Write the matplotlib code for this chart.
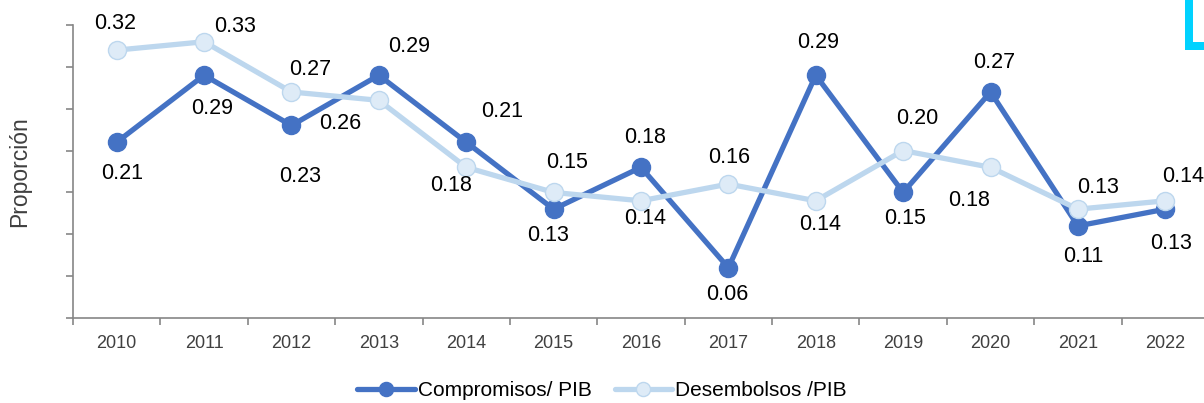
import matplotlib.pyplot as plt
from matplotlib.patches import Rectangle

plt.rcParams['font.family'] = ['Liberation Sans', 'DejaVu Sans']

# Data
years = ['2010', '2011', '2012', '2013', '2014', '2015', '2016',
         '2017', '2018', '2019', '2020', '2021', '2022']
compromisos = [0.21, 0.29, 0.23, 0.29, 0.21, 0.13, 0.18, 0.06, 0.29, 0.15, 0.27, 0.11, 0.13]
desembolsos = [0.32, 0.33, 0.27, 0.26, 0.18, 0.15, 0.14, 0.16, 0.14, 0.20, 0.18, 0.13, 0.14]

# label offsets in pixels (dx, dy) relative to each marker
comp_offsets = [(5, -31), (8, -33), (9, -51), (30, 29), (36, 31), (-6, -26), (4, 30),
                (-1, -27), (2, 33), (2, -26), (4, 29), (5, -31), (6, -34)]
des_offsets = [(-2, 27), (31, 15), (19, 22), (-39, -23), (-15, -18), (13, 30), (4, -18),
               (1, 27), (4, -24), (14, 32), (-21, -33), (20, 22), (18, 24)]

dark = '#4472C4'
light_line = '#BDD7EE'
light_fill = '#DEEBF7'

fig = plt.figure(figsize=(12.04, 4.03), dpi=100)
ax = fig.add_axes([73 / 1204, 85 / 403, 1136 / 1204, 293 / 403])

x = list(range(len(years)))
ax.plot(x, compromisos, color=dark, lw=3.8, marker='o', ms=13,
        markerfacecolor=dark, markeredgecolor=dark, label='Compromisos/ PIB',
        zorder=3, solid_capstyle='round')
ax.plot(x, desembolsos, color=light_line, lw=3.8, marker='o', ms=13,
        markerfacecolor=light_fill, markeredgecolor=light_line, markeredgewidth=1,
        label='Desembolsos /PIB', zorder=4, solid_capstyle='round')

for xi, v, off in zip(x, compromisos, comp_offsets):
    ax.annotate(f'{v:.2f}', (xi, v), xytext=off, textcoords='offset pixels',
                ha='center', va='center', fontsize=15.5, color='black',
                annotation_clip=False, zorder=5)
for xi, v, off in zip(x, desembolsos, des_offsets):
    ax.annotate(f'{v:.2f}', (xi, v), xytext=off, textcoords='offset pixels',
                ha='center', va='center', fontsize=15.5, color='black',
                annotation_clip=False, zorder=5)

ax.set_xlim(-0.5, len(years) - 0.5)
ax.set_ylim(0, 0.35)
ax.set_yticks([i * 0.05 for i in range(8)])
ax.set_yticklabels([])
ax.set_xticks(x)
ax.set_xticklabels(years, fontsize=13, color='#404040')
ax.set_xticks([i - 0.5 for i in range(len(years) + 1)], minor=True)
ax.tick_params(axis='x', which='major', length=0, pad=12)
ax.tick_params(axis='x', which='minor', length=5, color='#868686', width=1.2)
ax.tick_params(axis='y', length=5, color='#868686', width=1.2)

for s in ['top', 'right']:
    ax.spines[s].set_visible(False)
for s in ['left', 'bottom']:
    ax.spines[s].set_color('#868686')
    ax.spines[s].set_linewidth(1.2)

ax.set_ylabel('Proporción', fontsize=16.5, color='#404040')
ax.yaxis.set_label_coords(-0.0365, 0.5)

fig.legend(loc='center', bbox_to_anchor=(0.5, 1 - 391 / 403), ncol=2, frameon=False,
           fontsize=15, handlelength=2.75, handletextpad=0.15, columnspacing=1.1,
           markerscale=0.78)

# cyan bracket fragment in the top-right corner
fig.add_artist(Rectangle((1185 / 1204, 1 - 50 / 403), 8 / 1204, 50 / 403,
                         transform=fig.transFigure, color='#00D2FF', lw=0))
fig.add_artist(Rectangle((1185 / 1204, 1 - 50 / 403), 19 / 1204, 8 / 403,
                         transform=fig.transFigure, color='#00D2FF', lw=0))

fig.savefig('out.png', dpi=100)
